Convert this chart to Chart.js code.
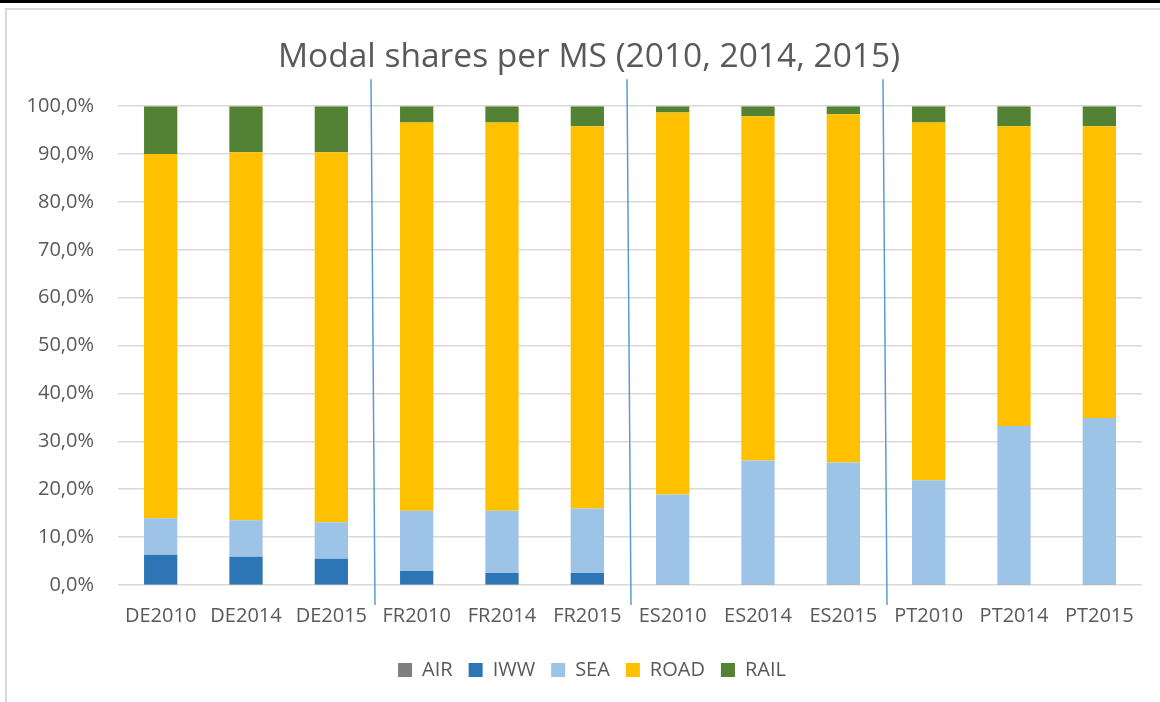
<!DOCTYPE html>
<html>
<head>
<meta charset="utf-8">
<script src="https://cdn.jsdelivr.net/npm/chart.js@4.4.1/dist/chart.umd.min.js"></script>
<style>
  body { margin: 0; background: #fff; }
  #topbar { position: absolute; left: 0; top: 0; width: 1160px; height: 3px; background: #000; }
  #frame { position: absolute; left: 5px; top: 8px; width: 1160px; height: 700px;
           border-left: 2px solid #d9d9d9; border-top: 2px solid #d9d9d9; }
  #wrap { position: absolute; left: 0; top: 0; width: 1160px; height: 702px; }
</style>
</head>
<body>
<div id="topbar"></div>
<div id="frame"></div>
<div id="wrap"><canvas id="modal-chart" width="1160" height="702"></canvas></div>
<script>
const categories = ['DE2010', 'DE2014', 'DE2015', 'FR2010', 'FR2014', 'FR2015',
                    'ES2010', 'ES2014', 'ES2015', 'PT2010', 'PT2014', 'PT2015'];
const air  = [0.1, 0.1, 0.1, 0.1, 0.1, 0.1, 0.1, 0.1, 0.1, 0.1, 0.1, 0.1];
const iww  = [6.2, 5.8, 5.4, 2.8, 2.4, 2.4, 0, 0, 0, 0, 0, 0];
const sea  = [7.65, 7.6, 7.6, 12.6, 13.0, 13.5, 18.8, 25.9, 25.5, 21.8, 33.1, 34.8];
const road = [76.05, 76.9, 77.3, 81.1, 81.1, 79.8, 79.8, 71.9, 72.7, 74.7, 62.6, 60.9];
const rail = [10.0, 9.6, 9.6, 3.4, 3.4, 4.2, 1.3, 2.1, 1.7, 3.4, 4.2, 4.2];
const yTicks = [0, 10, 20, 30, 40, 50, 60, 70, 80, 90, 100];

const grey = '#595959';
const font = 'Open Sans';

// slanted dividers between the country groups
const dividers = {
    id: 'dividers',
    afterLayout(chart) {
        // title and legend sit centred on the whole frame, a bit right of the default
        chart.titleBlock.left += 18;
        chart.titleBlock.right += 18;
        chart.legend.left += 21;
        chart.legend.right += 21;
        chart.legend.top += 5;
        chart.legend.bottom += 5;
    },
    afterDatasetsDraw(chart) {
        const x = chart.scales.x;
        const area = chart.chartArea;
        const c = chart.ctx;
        c.save();
        c.strokeStyle = '#5b9bd5';
        c.lineWidth = 1.5;
        for (let v of [2.5, 5.5, 8.5]) {
            const px = x.getPixelForValue(v);
            c.beginPath();
            c.moveTo(px - 3, area.top - 27);
            c.lineTo(px + 1, area.bottom + 20);
            c.stroke();
        }
        c.restore();
    }
};

const ds = (label, data, color) => ({
    label: label,
    data: data,
    backgroundColor: color,
    borderWidth: 0,
    barPercentage: 0.39,
    categoryPercentage: 1
});

new Chart(document.getElementById('modal-chart'), {
    type: 'bar',
    data: {
        labels: categories,
        datasets: [
            ds('AIR', air, '#7f7f7f'),
            ds('IWW', iww, '#2e75b6'),
            ds('SEA', sea, '#9dc3e6'),
            ds('ROAD', road, '#ffc000'),
            ds('RAIL', rail, '#548235')
        ]
    },
    options: {
        responsive: false,
        animation: false,
        layout: { padding: { left: 0, right: 18, top: 0, bottom: 17 } },
        scales: {
            x: {
                stacked: true,
                grid: { display: false },
                border: { display: false },
                ticks: { color: grey, font: { family: font, size: 20 }, padding: 11, maxRotation: 0 }
            },
            y: {
                stacked: true,
                min: 0,
                max: 100,
                afterBuildTicks: (s) => { s.ticks = yTicks.map(v => ({ value: v })); },
                afterFit: (s) => { s.width = 118; },
                grid: { color: '#d9d9d9', lineWidth: 1.5, drawTicks: false },
                border: { display: false },
                ticks: {
                    color: grey,
                    font: { family: font, size: 20 },
                    padding: 24,
                    callback: (v) => v.toFixed(1).replace('.', ',') + '%'
                }
            }
        },
        plugins: {
            title: {
                display: true,
                text: 'Modal shares per MS (2010, 2014, 2015)',
                color: grey,
                font: { family: font, size: 33.5, weight: 'normal' },
                padding: { top: 37, bottom: 29 }
            },
            legend: {
                position: 'bottom',
                labels: {
                    color: grey,
                    font: { family: font, size: 20 },
                    boxWidth: 14,
                    boxHeight: 14,
                    padding: 16
                }
            },
            tooltip: { enabled: false }
        }
    },
    plugins: [dividers]
});
</script>
</body>
</html>
